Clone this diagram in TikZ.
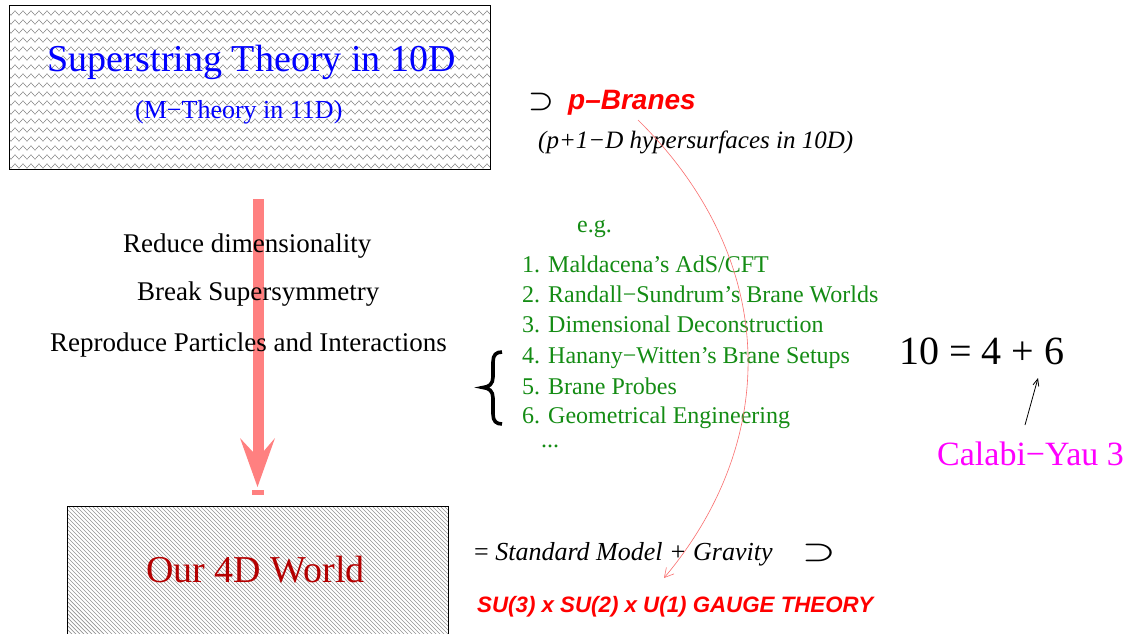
\documentclass[tikz,border=0pt]{standalone}
\usepackage{fontspec}
\setmainfont{Liberation Serif}
\newfontfamily\hsans{Liberation Sans}
\usetikzlibrary{decorations.pathmorphing,arrows.meta}
\definecolor{arrowpink}{RGB}{255,128,128}
\definecolor{curvered}{RGB}{250,110,110}
\definecolor{listgreen}{RGB}{20,140,20}
\definecolor{worldred}{RGB}{180,0,0}
\definecolor{cymagenta}{RGB}{255,0,255}
\begin{document}
\begin{tikzpicture}[x=1pt,y=-1pt,
  txt/.style={inner sep=0pt, anchor=base west},
  boxframe/.style={draw=black, line width=1pt},
  zig/.style={draw=gray, line width=0.5pt, decorate, decoration={zigzag, segment length=8pt, amplitude=2.2pt}},
  hatch/.style={draw=gray!85, line width=0.7pt},
  thinarrow/.style={-{Straight Barb[length=9pt,width=10pt]}, line width=0.6pt}]
\useasboundingbox (0,0) rectangle (1130,634);
\fill[white] (0,0) rectangle (1130,634);

% top box with zigzag pattern
\begin{scope}
\clip (9,6) rectangle (490,169);
\foreach \k in {0,...,17} {
  \draw[zig] (5,{13+9*\k}) -- (495,{13+9*\k});
}
\end{scope}
\draw[boxframe] (9,6) rectangle (490,169);

% bottom box with diagonal hatch
\begin{scope}
\clip (67,506) rectangle (448,640);
\foreach \x in {-80,-76,...,448} {
  \draw[hatch] (\x,506) -- ++(140,140);
}
\end{scope}
\draw[boxframe] (67,640) -- (67,506) -- (448,506) -- (448,640);

% big pink arrow
\fill[arrowpink] (252.5,199) rectangle (263.5,452);
\fill[arrowpink] (240,438) -- (253,452) -- (263,452) -- (275,438) -- (257.5,487) -- cycle;
\fill[arrowpink] (251.5,490) rectangle (264,495);

% texts of the top box
\node[txt, text=blue, font=\fontsize{38}{40}\selectfont] (title) at (47,72) {Superstring Theory in 10D};
\node[txt, text=blue, font=\fontsize{26}{28}\selectfont] (mtheory) at (135,118) {(M−Theory in 11D)};

% steps
\node[txt, font=\fontsize{27}{29}\selectfont] (reduce) at (123,252) {Reduce dimensionality};
\node[txt, font=\fontsize{27}{29}\selectfont] (break) at (137,300) {Break Supersymmetry};
\node[txt, font=\fontsize{27}{29}\selectfont] (repro) at (50,351) {Reproduce Particles and Interactions};

% bottom box text
\node[txt, text=worldred, font=\fontsize{38}{40}\selectfont] (world) at (146,582) {Our 4D World};

% p-branes
\node[txt, font=\fontsize{30}{32}\selectfont] (sup1) at (528,108) {\scalebox{1.15}[1.05]{\boldmath$\supset$}};
\node[txt, text=red, font=\hsans\bfseries\itshape\fontsize{28}{30}\selectfont] (pbranes) at (568,110) {p–Branes};
\node[txt, font=\itshape\fontsize{25}{27}\selectfont] (hyper) at (538,148) {(p+1−D hypersurfaces in 10D)};

% examples
\node[txt, text=listgreen, font=\fontsize{24}{26}\selectfont] (eg) at (577,232) {e.g.};
\node[txt, text=listgreen, font=\fontsize{24}{26}\selectfont] (l1) at (522,272) {1. Maldacena’s AdS/CFT};
\node[txt, text=listgreen, font=\fontsize{24}{26}\selectfont] (l2) at (522,302) {2. Randall−Sundrum’s Brane Worlds};
\node[txt, text=listgreen, font=\fontsize{24}{26}\selectfont] (l3) at (522,332) {3. Dimensional Deconstruction};
\node[txt, text=listgreen, font=\fontsize{24}{26}\selectfont] (l4) at (522,363) {4. Hanany−Witten’s Brane Setups};
\node[txt, text=listgreen, font=\fontsize{24}{26}\selectfont] (l5) at (522,394) {5. Brane Probes};
\node[txt, text=listgreen, font=\fontsize{24}{26}\selectfont] (l6) at (522,423) {6. Geometrical Engineering};
\node[txt, text=listgreen, font=\fontsize{24}{26}\selectfont] (dots) at (541,447) {...};

% brace
\draw[line width=3.6pt, line cap=butt] (502,352) .. controls (496,352) and (493,355) .. (493,362)
  -- (493,377) .. controls (493,384) and (489,387) .. (483,387.5)
  .. controls (489,388) and (493,391) .. (493,398)
  -- (493,414) .. controls (493,421) and (496,424) .. (502,424);

% 10 = 4 + 6
\node[txt, font=\fontsize{40}{42}\selectfont] (dims) at (899,364) {10 = 4 + 6};
\node[txt, text=cymagenta, font=\fontsize{34}{36}\selectfont] (cy) at (937,465) {Calabi−Yau 3};
\coordinate (cyarrowstart) at (1025,425);
\coordinate (six) at (1038,378);
\draw[-{Straight Barb[length=7pt,width=6pt]}, line width=0.8pt] (cyarrowstart) -- (six);

% standard model
\node[txt, font=\fontsize{26}{28}\selectfont] (sm) at (474,560) {= \itshape Standard Model + Gravity};
\node[txt, font=\fontsize{30}{32}\selectfont] (sup2) at (802,559) {\scalebox{1.5}[1.05]{\boldmath$\supset$}};
\node[txt, text=red, font=\hsans\bfseries\itshape\fontsize{22.3}{24}\selectfont] (gauge) at (477,612) {SU(3) x SU(2) x U(1) GAUGE THEORY};

% curved arrow from p-branes to gauge theory
\coordinate (cstart) at (638,120);
\coordinate (cend) at (664,578);
\draw[thinarrow, draw=curvered] (cstart) .. controls (780,260) and (780,440) .. (cend);
\end{tikzpicture}
\end{document}
